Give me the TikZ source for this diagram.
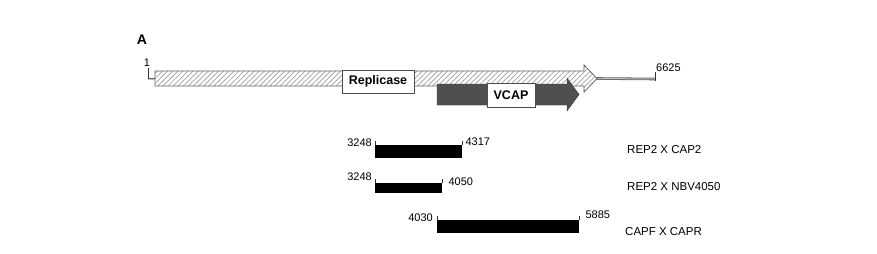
\documentclass[tikz,border=0pt]{standalone}
\usepackage{fontspec}
\setmainfont{Liberation Sans}
\usetikzlibrary{positioning,patterns.meta}
\definecolor{mapgray}{RGB}{100,100,100}
\definecolor{capdark}{RGB}{80,80,80}
\tikzset{
  orf/.style={draw=mapgray, line width=0.8pt, preaction={fill=white},
              pattern={Lines[angle=45, distance=3.6pt, line width=0.7pt]},
              pattern color=gray!75},
  capbar/.style={draw=capdark!70!black, fill=capdark,
                 postaction={pattern={Dots[distance=1.6pt, radius=0.35pt]},
                 pattern color=black!70}},
  namebox/.style={draw=black!70, fill=white, inner sep=0pt, minimum height=23pt,
                  font=\fontsize{12.5}{14}\selectfont\bfseries},
  amplicon/.style={fill=black, inner sep=0pt},
  coordlbl/.style={font=\fontsize{11}{12}\selectfont, inner sep=0pt},
  pairlbl/.style={font=\fontsize{11.5}{13}\selectfont, anchor=west, inner sep=0pt},
  endtick/.style={line width=1pt, black!80},
  spacer/.style={draw=mapgray, line width=0.8pt, double=gray!50, double distance=1pt}
}
\begin{document}
\begin{tikzpicture}[x=1pt, y=-1pt]
  \useasboundingbox (0,0) rectangle (877,254);
  \node[font=\fontsize{14}{16}\selectfont\bfseries, inner sep=0pt] (panel) at (142,40) {A};
  % genome map
  \coordinate (start) at (148,79);
  \coordinate (tip) at (597,78.5);
  \coordinate (stop) at (655,79);
  \draw[spacer] (start) -- (155,79);
  \draw[endtick] (148,68) -- (start);
  \node[coordlbl] (one) at (147,63) {1};
  \draw[spacer] (tip) -- (stop);
  \draw[endtick] (655,72) -- (655,81);
  \node[coordlbl, anchor=west] (len) at (656,68) {6625};
  \draw[orf] (155,71) -- (584,71) -- (584,65) -- (tip) -- (584,92) -- (584,86)
    -- (155,86) -- cycle;
  \draw[capbar] (437,84) -- (567,84) -- (567,78) -- (579,94.5) -- (567,111)
    -- (567,105) -- (437,105) -- cycle;
  \node[namebox, minimum width=72pt] (rep) at (378,81.5) {Replicase};
  \node[namebox, minimum width=48pt, minimum height=24pt] (cap) at (511,95) {VCAP};
  % PCR products
  \node[amplicon, minimum width=87pt, minimum height=13pt, anchor=north west] (amp1) at (375,145) {};
  \node[amplicon, minimum width=67pt, minimum height=10pt, anchor=north west] (amp2) at (375,183) {};
  \node[amplicon, minimum width=142pt, minimum height=13pt, anchor=north west] (amp3) at (437,220) {};
  \foreach \a in {amp1,amp2,amp3} {
    \draw[endtick] (\a.north west) -- ++(0,-4);
    \draw[endtick] (\a.north east) -- ++(0,-4);
  }
  \node[coordlbl, left=3pt of amp1.north west, yshift=2pt] (a1s) {3248};
  \node[coordlbl, right=3pt of amp1.north east, yshift=3pt] (a1e) {4317};
  \node[coordlbl, left=3pt of amp2.north west, yshift=6pt] (a2s) {3248};
  \node[coordlbl, right=6pt of amp2.north east, yshift=1pt] (a2e) {4050};
  \node[coordlbl, left=4pt of amp3.north west, yshift=2pt] (a3s) {4030};
  \node[coordlbl, right=6pt of amp3.north east, yshift=5pt] (a3e) {5885};
  \node[pairlbl] (p1) at (627,150) {REP2 X CAP2};
  \node[pairlbl] (p2) at (627,187) {REP2 X NBV4050};
  \node[pairlbl] (p3) at (625,232) {CAPF X CAPR};
\end{tikzpicture}
\end{document}
